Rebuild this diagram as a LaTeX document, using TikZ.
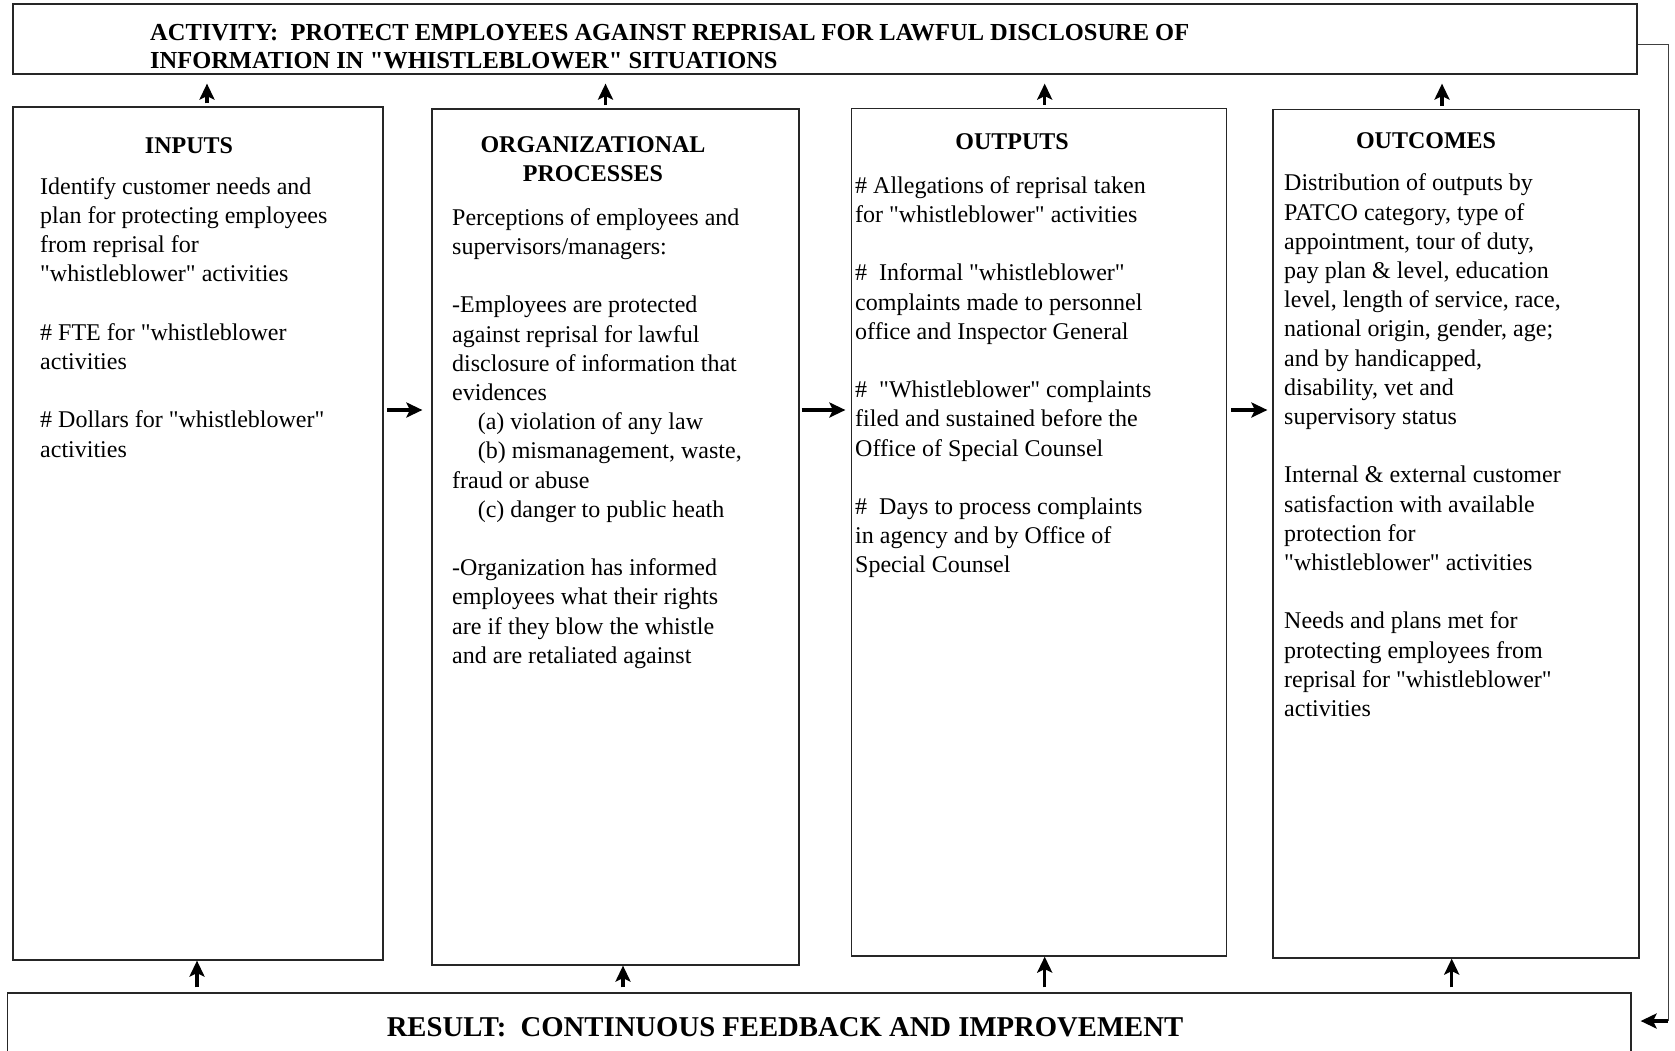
\documentclass[tikz,border=0pt]{standalone}
\usepackage{fontspec}
\setmainfont{Liberation Serif}[Ligatures=TeXOff]
\usetikzlibrary{arrows.meta,calc}
\begin{document}
\begin{tikzpicture}[x=1pt,y=-1pt,
  box/.style={draw=black!85, line width=1.2pt, inner sep=0pt},
  body/.style={inner sep=0pt, align=left, anchor=north west, font=\fontsize{24}{29.2}\selectfont},
  heading/.style={inner sep=0pt, align=center, font=\fontsize{24}{29.2}\selectfont\bfseries},
  flow/.style={line width=3.4pt, -{Stealth[length=16pt,width=15pt,inset=3.5pt]}},
  loopline/.style={line width=1pt, draw=black!75},
]
\useasboundingbox (0,0) rectangle (1675,1050);
\newcommand{\firstline}{\rule{0pt}{20pt}}
\newcommand{\gapline}{\\[29.2pt]}
\newcommand{\indentby}{\hspace*{25.6pt}}

% frames
\node[box, minimum width=1624pt, minimum height=70pt] (act) at (825,39) {};
\node[box, minimum width=370pt, minimum height=853pt] (inbox) at (198,533.5) {};
\node[box, minimum width=367pt, minimum height=856pt] (orgbox) at (615.5,537) {};
\node[box, minimum width=375pt, minimum height=847.5pt] (outbox) at (1039,532.25) {};
\node[box, minimum width=366pt, minimum height=848.5pt] (outcbox) at (1456,533.75) {};
\node[box, minimum width=1623.5pt, minimum height=90pt] (res) at (819.25,1038) {};

% banner texts
\node[inner sep=0pt, anchor=north west, align=left, font=\fontsize{24.45}{28.5}\selectfont\bfseries] (acttext) at (150,20)
  {\firstline ACTIVITY:\ \ PROTECT EMPLOYEES AGAINST REPRISAL FOR LAWFUL DISCLOSURE OF\\
   INFORMATION IN "WHISTLEBLOWER" SITUATIONS};
\node[inner sep=0pt, anchor=base, font=\fontsize{28.7}{34}\selectfont\bfseries] (restext) at (785,1036) {RESULT:\ \ CONTINUOUS FEEDBACK AND IMPROVEMENT};

% column headings
\node[heading, anchor=base] (inhead) at (189,153) {INPUTS};
\node[heading, anchor=north] (orghead) at (593,132) {\firstline ORGANIZATIONAL\\PROCESSES};
\node[heading, anchor=base] (outhead) at (1012,149) {OUTPUTS};
\node[heading, anchor=base] (outchead) at (1426,148) {OUTCOMES};

% column texts
\node[body] (intext) at (40,174) {\firstline Identify customer needs and\\
plan for protecting employees\\
from reprisal for\\
"whistleblower" activities\gapline
\# FTE for "whistleblower\\
activities\gapline
\# Dollars for "whistleblower"\\
activities};

\node[body] (orgtext) at (452,205) {\firstline Perceptions of employees and\\
supervisors/managers:\gapline
-Employees are protected\\
against reprisal for lawful\\
disclosure of information that\\
evidences\\
\indentby(a) violation of any law\\
\indentby(b) mismanagement, waste,\\
fraud or abuse\\
\indentby(c) danger to public heath\gapline
-Organization has informed\\
employees what their rights\\
are if they blow the whistle\\
and are retaliated against};

\node[body] (outtext) at (855,173) {\firstline \# Allegations of reprisal taken\\
for "whistleblower" activities\gapline
\#\ \ Informal "whistleblower"\\
complaints made to personnel\\
office and Inspector General\gapline
\#\ \ "Whistleblower" complaints\\
filed and sustained before the\\
Office of Special Counsel\gapline
\#\ \ Days to process complaints\\
in agency and by Office of\\
Special Counsel};

\node[body] (outctext) at (1284,170.7) {\firstline Distribution of outputs by\\
PATCO category, type of\\
appointment, tour of duty,\\
pay plan \& level, education\\
level, length of service, race,\\
national origin, gender, age;\\
and by handicapped,\\
disability, vet and\\
supervisory status\gapline
Internal \& external customer\\
satisfaction with available\\
protection for\\
"whistleblower" activities\gapline
Needs and plans met for\\
protecting employees from\\
reprisal for "whistleblower"\\
activities};

% flow between columns
\coordinate (midrow) at (0,410);
\draw[flow] ($(inbox.east |- midrow)+(3.5,0)$) -- ($(orgbox.west |- midrow)+(-9,0)$);
\draw[flow] ($(orgbox.east |- midrow)+(2,0)$) -- ($(outbox.west |- midrow)+(-5.5,0)$);
\draw[flow] ($(outbox.east |- midrow)+(4,0)$) -- ($(outcbox.west |- midrow)+(-5,0)$);

% columns feed the activity
\draw[flow] ($(inbox.north)+(9,-3)$) -- ($(inbox.north |- act.south)+(9,9)$);
\draw[flow] ($(orgbox.north)+(-10,-3)$) -- ($(orgbox.north |- act.south)+(-10,9)$);
\draw[flow] ($(outbox.north)+(5.7,-3)$) -- ($(outbox.north |- act.south)+(5.7,9)$);
\draw[flow] ($(outcbox.north)+(-14,-3)$) -- ($(outcbox.north |- act.south)+(-14,9)$);

% result feeds back into the columns
\draw[flow] ($(res.north -| inbox.south)+(-1,-5)$) -- ($(inbox.south)+(-1,0)$);
\draw[flow] ($(res.north -| orgbox.south)+(7.5,-5)$) -- ($(orgbox.south)+(7.5,0)$);
\draw[flow] ($(res.north -| outbox.south)+(5.7,-5)$) -- ($(outbox.south)+(5.7,0)$);
\draw[flow] ($(res.north -| outcbox.south)+(-4.3,-5)$) -- ($(outcbox.south)+(-4.3,0)$);

% feedback loop from activity to result
\coordinate (fbturn) at (1668,1021);
\draw[loopline] ($(act.east)+(0,5)$) -| (fbturn);
\draw[flow] (fbturn) -- ($(fbturn -| res.east)+(9,0)$);
\end{tikzpicture}
\end{document}
